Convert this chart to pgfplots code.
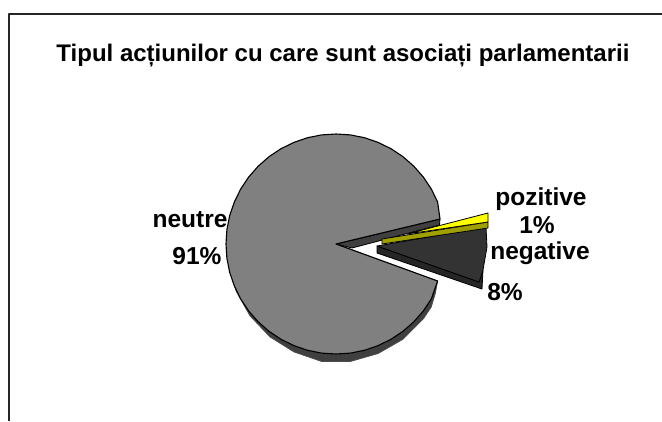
\documentclass[border=0pt]{standalone}
\usepackage{pgfplots}
\pgfplotsset{compat=1.18}
\usepackage{fontspec}
\setmainfont{Liberation Sans}
\definecolor{piegray}{HTML}{808080}
\definecolor{pieside}{HTML}{404040}
\definecolor{negtop}{HTML}{333333}
\definecolor{negside}{HTML}{262626}
\definecolor{postop}{HTML}{FFFF00}
\definecolor{posside}{HTML}{A0A000}
\tikzset{lab/.style={font=\fontsize{24.5}{27}\selectfont\bfseries}}
\begin{document}
\begin{tikzpicture}
\begin{axis}[
  scale only axis, width=662pt, height=421pt,
  xmin=0, xmax=662, ymin=0, ymax=421, y dir=reverse,
  hide axis, clip=true,
  every axis plot/.append style={line join=round},
]
% keep the whole canvas in the page
\path[use as bounding box] (axis cs:0,0) rectangle (axis cs:662,421);
% frame, open to the right and below
\addplot[draw=black!85, line width=1.2pt] coordinates {(9,421) (9,14) (662,14)};

% side of the big slice
\addplot[fill=pieside, draw=black!70, line width=0.6pt] coordinates {
 (229,262) (236,291) (250,316) (270,337) (294,352) (321.6,361.5)
 (350.4,361.5) (378.1,353.6) (403,339.3) (423.3,319) (431.3,307) (435.5,293)
 (437.6,281) (336,244)} -- cycle;
% inner wall seen through the gap
\addplot[fill=pieside, draw=black, line width=0.8pt] coordinates {
 (336,244) (440,219) (439.5,225) (352,248)} -- cycle;
% big slice, neutre
\addplot[fill=piegray, draw=black, line width=1.1pt] coordinates {
 (336,244) (440,219) (437.6,201.9) (431.3,189) (423.3,177) (413.8,166.2) (403,156.7)
 (391,148.7) (378.1,142.4) (364.5,137.7) (350.4,134.9) (336,134) (321.6,134.9)
 (307.5,137.7) (293.9,142.4) (281,148.7) (269,156.7) (258.2,166.2) (248.7,177)
 (240.7,189) (234.4,201.9) (229.7,215.5) (226.9,229.6) (226,244) (226.9,258.4)
 (229.7,272.5) (234.4,286.1) (240.7,299) (248.7,311) (258.2,321.8) (269,331.3)
 (281,339.3) (293.9,345.6) (307.5,350.3) (321.6,353.1) (336,354) (350.4,353.1)
 (364.5,350.3) (378.1,345.6) (391,339.3) (403,331.3) (413.8,321.8) (423.3,311)
 (431.3,299) (437.6,281)} -- cycle;

% negative slice, side then top
\addplot[fill=negside, draw=black, line width=0.8pt] coordinates {
 (377,246) (479,282) (483,270) (482,289) (479,288) (377,253)} -- cycle;
\addplot[fill=negtop, draw=black, line width=0.8pt] coordinates {
 (377,246) (486,227) (487,247) (483,270) (479,282)} -- cycle;

% positive slice, side then top
\addplot[fill=posside, draw=black, line width=0.8pt] coordinates {
 (382,239) (488,222) (488,228) (382,244)} -- cycle;
\addplot[fill=postop, draw=black, line width=0.8pt] coordinates {
 (407,234) (488,213) (488,222)} -- cycle;

\node[font=\fontsize{24}{27}\selectfont\bfseries] at (axis cs:343,56)
  {Tipul acțiunilor cu care sunt asociați parlamentarii};
\node[lab] at (axis cs:190,220) {neutre};
\node[lab] at (axis cs:197,256) {91\%};
\node[lab] at (axis cs:541,199) {pozitive};
\node[lab] at (axis cs:537,225) {1\%};
\node[lab] at (axis cs:540,253) {negative};
\node[lab] at (axis cs:505,292) {8\%};
\end{axis}
\end{tikzpicture}
\end{document}
